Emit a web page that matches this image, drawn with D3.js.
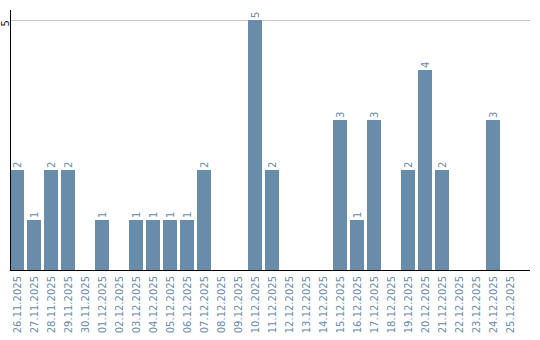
<!DOCTYPE html>
<html><head><meta charset="utf-8">
<script src="https://cdn.jsdelivr.net/npm/d3@7"></script>
<style>body{margin:0;background:#fff}svg{display:block}text{font-family:"DejaVu Sans",sans-serif}</style>
</head><body>
<svg id="c" width="540" height="340"></svg>
<script>
const categories = ["26.11.2025","27.11.2025","28.11.2025","29.11.2025","30.11.2025","01.12.2025","02.12.2025","03.12.2025","04.12.2025","05.12.2025","06.12.2025","07.12.2025","08.12.2025","09.12.2025","10.12.2025","11.12.2025","12.12.2025","13.12.2025","14.12.2025","15.12.2025","16.12.2025","17.12.2025","18.12.2025","19.12.2025","20.12.2025","21.12.2025","22.12.2025","23.12.2025","24.12.2025","25.12.2025"];
const values = [2,1,2,2,0,1,0,1,1,1,1,2,0,0,5,2,0,0,0,3,1,3,0,2,4,2,0,0,3,0];
const yTicks = [5];

const svg = d3.select("#c");
const x = d3.scaleBand().domain(categories).range([10, 517]).paddingInner(3/17).paddingOuter(0).align(0);
const y = d3.scaleLinear().domain([0, 5.2]).range([270, 10]);
const barColor = "#6a8cab";

// gridlines
svg.selectAll(".grid").data(yTicks).join("line")
  .attr("x1", 10).attr("x2", 530)
  .attr("y1", d => Math.round(y(d)) + 0.5).attr("y2", d => Math.round(y(d)) + 0.5)
  .attr("stroke", "#c8c8c8").attr("stroke-width", 1);

// bars
svg.selectAll(".bar").data(categories).join("rect")
  .attr("x", d => x(d)).attr("width", x.bandwidth())
  .attr("y", (d,i) => y(values[i])).attr("height", (d,i) => y(0) - y(values[i]))
  .attr("fill", barColor);

// value labels
svg.selectAll(".vl").data(categories.filter((d,i) => values[i] > 0)).join("text")
  .attr("transform", d => `translate(${x(d) + x.bandwidth()/2 + 0.5},${y(values[categories.indexOf(d)]) - 2}) rotate(-90)`)
  .attr("dy", "0.35em").attr("text-anchor", "start")
  .attr("font-size", 10).attr("fill", barColor)
  .text(d => values[categories.indexOf(d)]);

// y tick labels
svg.selectAll(".yl").data(yTicks).join("text")
  .attr("transform", d => `translate(5,${y(d)}) rotate(-90)`)
  .attr("dy", "0.35em").attr("text-anchor", "end")
  .attr("font-size", 10).attr("fill", "#222")
  .text(d => d);

// x labels
svg.selectAll(".xl").data(categories).join("text")
  .attr("transform", d => `translate(${x(d) + x.bandwidth()/2 + 0.5},276) rotate(-90)`)
  .attr("dy", "0.35em").attr("text-anchor", "end")
  .attr("font-size", 10).attr("fill", barColor)
  .text(d => d);

// axes lines
svg.append("line").attr("x1", 10.5).attr("x2", 10.5).attr("y1", 10).attr("y2", 270).attr("stroke", "#000");
svg.append("line").attr("x1", 10).attr("x2", 530).attr("y1", 270.5).attr("y2", 270.5).attr("stroke", "#000");
</script>
</body></html>
